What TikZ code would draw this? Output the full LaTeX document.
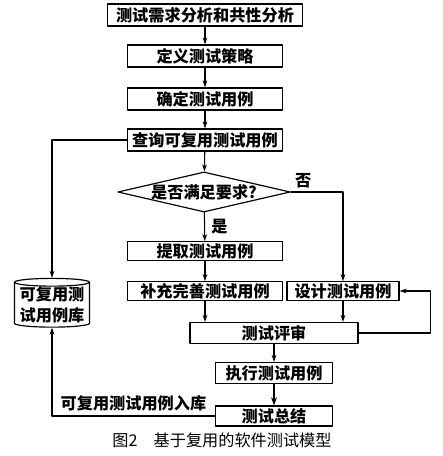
\documentclass[tikz,border=0pt]{standalone}
\usepackage{fontspec}
\setmainfont{Noto Sans CJK SC}
\usepackage{tikz}
\usetikzlibrary{arrows.meta,shapes.geometric,positioning}

\tikzset{
    stepbox/.style={draw,line width=1pt,minimum height=0.66cm,inner sep=1pt,font=\bfseries\fontsize{13.8}{15}\selectfont},
    decide/.style={draw,line width=1pt,diamond,aspect=4.3,inner sep=0pt,minimum width=5.16cm,minimum height=1.2cm,font=\bfseries\fontsize{13.8}{15}\selectfont},
    store/.style={draw,line width=1pt,cylinder,shape border rotate=90,aspect=0.12,inner sep=0pt,minimum width=2.25cm,minimum height=1.2cm,align=center,font=\bfseries\fontsize{13.8}{18}\selectfont},
    flow/.style={-{Stealth[length=6pt,width=4pt]},line width=0.9pt},
    tag/.style={font=\bfseries\fontsize{13.8}{15}\selectfont}
}

\begin{document}
\begin{tikzpicture}[x=0.03cm,y=-0.03cm,line cap=round,line join=round]

        % --- frame ---
        \useasboundingbox (0,0) rectangle (442,456);

        % --- main chain ---
        \node[stepbox,minimum width=5.85cm] (analyse) at (205,15) {测试需求分析和共性分析};
        \node[stepbox,minimum width=4.65cm] (strategy) at (205,56) {定义测试策略};
        \node[stepbox,minimum width=4.65cm] (fixcase) at (205,99) {确定测试用例};
        \node[stepbox,minimum width=4.65cm] (query) at (205,140) {查询可复用测试用例};
        \node[decide] (check) at (204,192) {是否满足要求?};
        \node[stepbox,minimum width=4.65cm,minimum height=0.56cm] (extract) at (205,251) {提取测试用例};
        \node[stepbox,minimum width=4.65cm,minimum height=0.56cm] (complete) at (205,291) {补充完善测试用例};
        \node[stepbox,minimum width=3.36cm,minimum height=0.56cm] (design) at (343,291) {设计测试用例};
        \node[stepbox,minimum width=5.04cm,minimum height=0.63cm] (review) at (274,333) {测试评审};
        \node[stepbox,minimum width=3.51cm,minimum height=0.63cm] (execute) at (274,373) {执行测试用例};
        \node[stepbox,minimum width=3.51cm,minimum height=0.6cm] (summary) at (274,416) {测试总结};

        % case library
        \node[store] (library) at (52,305) {可复用测\\试用例库};

        % --- connectors ---
        \draw[flow] (analyse) -- (strategy);
        \draw[flow] (strategy) -- (fixcase);
        \draw[flow] (fixcase) -- (query);
        \draw[flow] (query) -- (check);
        \draw[flow] (check) -- (extract) node[tag,pos=0.5,right=2pt] {是};
        \draw[flow] (extract) -- (complete);
        \draw[flow] (check.east) -| (design.north) node[tag,pos=0.12,above] {否};
        \draw[flow] (complete.south) -- (complete.south |- review.north);
        \draw[flow] (design.south) -- (design.south |- review.north);
        \draw[flow] (review.east) -- ++(72,0) |- (design.east);
        \draw[flow] (review) -- (execute);
        \draw[-{Stealth[length=7pt,width=5pt]},line width=2pt] (execute) -- (summary);

        % library links
        \draw[flow] (query.west) -| (library.top);
        \draw[flow] (summary.west) -| (library.bottom) node[tag,pos=0.25,above] {可复用测试用例入库};

        % caption
        \node[font=\fontsize{13.8}{15}\selectfont] (caption) at (222,440) {图2\quad 基于复用的软件测试模型};

\end{tikzpicture}
\end{document}
